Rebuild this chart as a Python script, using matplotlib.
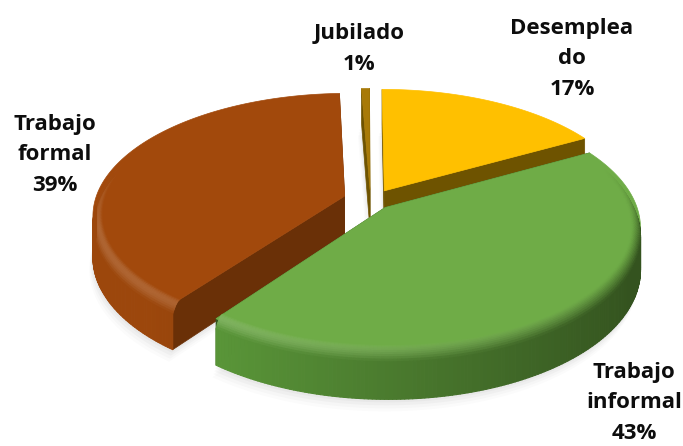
import numpy as np
import matplotlib
matplotlib.use('Agg')
import matplotlib.pyplot as plt
from matplotlib.colors import to_rgb
from matplotlib.patches import Polygon
from matplotlib.collections import PolyCollection

labels = ['Desemplea\ndo\n17%', 'Trabajo\ninformal\n43%', 'Trabajo\nformal\n39%', 'Jubilado\n1%']
# the sliver is drawn thinner than its rounded 1% label
values = [17, 43.2, 39.2, 0.6]
colors = ['#FFC000', '#6FAC47', '#A2490C', '#A87A08']
wall_dark = ['#6E5300', '#34531F', '#6A3007', '#6E5300']
wall_light = ['#7A5C00', '#5C9A3A', '#9C470C', '#7A5C00']
# offset of each wedge from the pie centre, in disc units
offset_u = [0.07, 0.072, -0.09, 0.012]
offset_v = [0.01, -0.13, -0.035, 0.02]
label_xy = [(572, 59), (634, 403), (55, 155), (359, 49)]

W, H = 683, 446
CX, CY = 367, 192
RX, RY = 247, 117
PERSP = 0.15
DEPTH = 40
BEVEL = 10


def project(u, v, z=0):
    w = 1 + PERSP * v
    return CX + RX * u / w, CY - RY * v / w + DEPTH * z / w


def blend(c, other, t):
    c, other = np.array(to_rgb(c)), np.array(to_rgb(other))
    return tuple(c * (1 - t) + other * t)


fig = plt.figure(figsize=(W / 100, H / 100), dpi=100)
ax = fig.add_axes([0, 0, 1, 1])
ax.set_xlim(0, W)
ax.set_ylim(H, 0)
ax.axis('off')

fracs = np.array(values) / sum(values)
starts = np.concatenate([[0], np.cumsum(fracs)[:-1]]) * 2 * np.pi
ends = np.cumsum(fracs) * 2 * np.pi

# back wedges first, front wedge last
order = [3, 0, 2, 1]
for n, i in enumerate(order):
    z0 = 10 * n + 2
    ou, ov = offset_u[i], offset_v[i]
    tt = np.linspace(starts[i], ends[i], 200)
    x0b, y0b = project(ou, ov, 1)

    # soft shadow under the wedge
    xs, ys = project(ou + np.sin(tt), ov + np.cos(tt), 1)
    for k, a in zip([12, 9, 6, 3], [0.03, 0.04, 0.05, 0.06]):
        ax.add_patch(Polygon(np.column_stack([np.r_[x0b, xs] - k * 0.3, np.r_[y0b, ys] + k]),
                             fc='#808080', ec='none', alpha=a, zorder=1))

    # straight side faces
    x0t, y0t = project(ou, ov, 0)
    for t_end in [tt[0], tt[-1]]:
        xt, yt = project(ou + np.sin(t_end), ov + np.cos(t_end), 0)
        xb, yb = project(ou + np.sin(t_end), ov + np.cos(t_end), 1)
        ax.add_patch(Polygon([(x0t, y0t), (xt, yt), (xb, yb), (x0b, y0b)],
                             fc=wall_dark[i], ec=wall_dark[i], lw=0.5, zorder=z0))

    # top surface
    x, y = project(ou + np.sin(tt), ov + np.cos(tt), 0)
    ax.add_patch(Polygon(np.column_stack([np.r_[x0t, x], np.r_[y0t, y]]),
                         fc=colors[i], ec=colors[i], lw=0.5, zorder=z0 + 2))

    # outer rim: a smooth bevel from the top surface, then the plain wall
    quads = []
    shades = []
    for j in range(len(tt) - 1):
        tm = (tt[j] + tt[j + 1]) / 2
        if np.cos(tm) > 0.35:
            continue
        s = np.clip((np.sin(tm) + 0.7) / 1.6, 0, 1)
        wall = blend(wall_light[i], wall_dark[i], s)
        fade = np.clip((0.35 - np.cos(tm)) / 0.6, 0, 1)
        pair = tt[j:j + 2]
        for b in range(BEVEL + 1):
            q0 = b / BEVEL
            q1 = (b + 1) / BEVEL
            if b == BEVEL:
                # the wall below the bevel, only where it faces the viewer
                if np.cos(tm) > 0:
                    continue
                r0, r1, z_a, z_b = 1.0, 1.0, 0.22, 1.0
                shade = wall
            else:
                r0, r1 = 0.965 + 0.035 * q0, 0.965 + 0.035 * q1
                z_a, z_b = 0.22 * q0 ** 2, 0.22 * q1 ** 2
                qm = (q0 + q1) / 2
                shade = blend(colors[i], wall, qm ** 1.5)
                shade = blend(shade, '#FFFFFF', 0.16 * (1 - s) * np.sin(np.pi * qm))
                shade = blend(colors[i], shade, fade)
            xa, ya = project(ou + r0 * np.sin(pair), ov + r0 * np.cos(pair), z_a)
            xc, yc = project(ou + r1 * np.sin(pair), ov + r1 * np.cos(pair), z_b)
            quads.append([(xa[0], ya[0]), (xa[1], ya[1]), (xc[1], yc[1]), (xc[0], yc[0])])
            shades.append(shade)
    if quads:
        ax.add_collection(PolyCollection(quads, facecolors=shades, edgecolors=shades,
                                         linewidths=0.8, zorder=z0 + 3))

for lab, (lx, ly) in zip(labels, label_xy):
    ax.text(lx, ly, lab, ha='center', va='center', fontsize=16, fontweight='bold',
            family='Open Sans', color='#0D0D0D', linespacing=1.62, zorder=100)

fig.savefig('out.png', dpi=100)
